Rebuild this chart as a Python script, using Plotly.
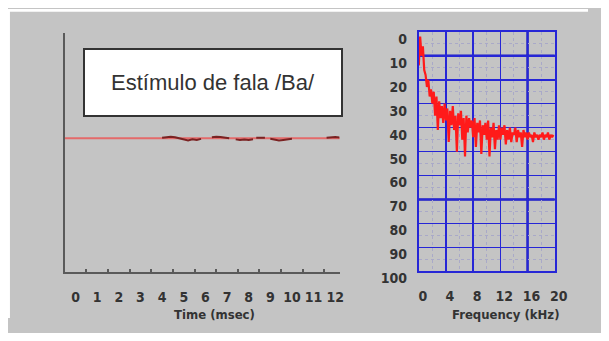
import plotly.graph_objects as go

# ---------------- data ----------------
time_ticks = [0, 1, 2, 3, 4, 5, 6, 7, 8, 9, 10, 11, 12]
time_minor_ticks = [0.5, 1.5, 2.5, 3.5, 4.5, 5.5, 6.5, 7.5, 8.5, 9.5, 10.5, 11.5]

# small visible wiggles of the speech waveform (None = gap, signal ~ 0)
wave_t = [4.0, 4.2, 4.4, 4.6, 4.8, 5.0, 5.2, 5.4, 5.6, 5.8, 6.0,
          6.3, 6.5, 6.7, 6.9, 7.1, 7.2,
          7.4, 7.6, 7.8, 8.0, 8.2, 8.25,
          8.35, 8.55, 8.75, 8.9,
          9.0, 9.2, 9.4, 9.6, 9.8, 10.0, 10.1,
          11.6, 11.8, 12.0, 12.2]
wave_v = [0.005, 0.01, 0.015, 0.01, 0.0, -0.015, -0.02, -0.01, -0.015, -0.005, None,
          0.01, 0.015, 0.012, 0.008, 0.0, None,
          -0.01, -0.015, -0.012, -0.015, -0.008, None,
          0.005, 0.008, 0.005, None,
          -0.005, -0.015, -0.02, -0.015, -0.01, -0.005, None,
          0.005, 0.01, 0.012, 0.008]

freq_ticks = [0, 4, 8, 12, 16, 20]
db_ticks = [0, 10, 20, 30, 40, 50, 60, 70, 80, 90, 100]
thick_freq_lines = [16]
thick_db_lines = [10, 70]

freq_khz = [round(0.2 * i, 1) for i in range(100)]
level_db = [
    14, 2, 10, 6, 16,
    18, 23, 20, 27, 24,
    30, 25, 35, 27, 41,
    29, 36, 31, 38, 30,
    37, 32, 46, 33, 39,
    31, 41, 35, 50, 34,
    39, 33, 45, 36, 52,
    35, 42, 36, 40, 37,
    44, 36, 48, 38, 42,
    37, 51, 39, 43, 38,
    45, 37, 52, 40, 44,
    38, 49, 41, 45, 39,
    45, 40, 43, 39, 47,
    41, 45, 40, 46, 42,
    43, 40, 46, 41, 44,
    42, 48, 41, 44, 42,
    45, 42, 44, 43, 46,
    42, 44, 43, 45, 43,
    44, 42, 45, 43, 44,
    42, 45, 43, 44, 43,
]

# ---------------- styling ----------------
# The page body keeps its default 8px margin, so the figure is sized to fit
# the 609x341 window exactly and positions are measured in window pixels.
PAGE_MARGIN = 8
WIN_W, WIN_H = 609, 341
W, H = WIN_W - 2 * PAGE_MARGIN, WIN_H - 2 * PAGE_MARGIN
BG = "#c4c4c4"
AX = "#5a5a5a"
BLUE = "#2626d6"
TXT = "#333333"
TICKFONT = dict(family="DejaVu Sans Condensed, Liberation Sans Narrow, Arial Narrow, Arial, sans-serif",
                size=14, color=TXT, weight="bold")
TITLEFONT = dict(family="DejaVu Sans Condensed, Liberation Sans Narrow, Arial Narrow, Arial, sans-serif",
                 size=13, color=TXT, weight="bold")


def px_x(p):
    return (p - PAGE_MARGIN) / W


def px_y(p):
    return 1 - (p - PAGE_MARGIN) / H


fig = go.Figure()

fig.add_trace(go.Scatter(x=wave_t, y=wave_v, mode="lines", xaxis="x", yaxis="y",
                         line=dict(color="#7a2222", width=2), connectgaps=False,
                         hoverinfo="skip", showlegend=False))

fig.add_trace(go.Scatter(x=freq_khz, y=level_db, mode="lines", xaxis="x2", yaxis="y2",
                         line=dict(color="#ff1a1a", width=2.2),
                         hoverinfo="skip", showlegend=False))

shapes = [
    # white strips outside the grey panel (continuing the page margin)
    dict(type="rect", xref="paper", yref="paper", x0=0, x1=px_x(10), y0=0, y1=1,
         fillcolor="white", line=dict(width=0), layer="below"),
    dict(type="rect", xref="paper", yref="paper", x0=0, x1=1, y0=px_y(11), y1=1,
         fillcolor="white", line=dict(width=0), layer="below"),
    # zero line of the waveform
    dict(type="line", xref="x domain", yref="y", x0=0, x1=1, y0=0, y1=0,
         line=dict(color="#e46a6a", width=2), layer="below"),
]
for f in thick_freq_lines:
    shapes.append(dict(type="line", xref="x2", yref="y2 domain", x0=f, x1=f, y0=0, y1=1,
                       line=dict(color="#1a1ac8", width=2.5), layer="below"))
for d in thick_db_lines:
    shapes.append(dict(type="line", xref="x2 domain", yref="y2", x0=0, x1=1, y0=d, y1=d,
                       line=dict(color="#1a1ac8", width=2.5), layer="below"))

annotations = [
    dict(text="Estímulo de fala /Ba/", xref="paper", yref="paper",
         x=px_x(218), y=px_y(85), xanchor="center", yanchor="middle", showarrow=False,
         width=254, height=63, bgcolor="white", bordercolor="#333333", borderwidth=2,
         font=dict(family="Liberation Sans, Arial, sans-serif", size=22, color=TXT)),
    dict(text="Time (msec)", xref="paper", yref="paper", x=px_x(219), y=px_y(329),
         xanchor="center", yanchor="middle", showarrow=False, font=TITLEFONT),
    dict(text="Frequency (kHz)", xref="paper", yref="paper", x=px_x(517), y=px_y(329),
         xanchor="center", yanchor="middle", showarrow=False, font=TITLEFONT),
]

fig.update_layout(
    width=W, height=H,
    margin=dict(l=0, r=0, t=0, b=0),
    paper_bgcolor=BG, plot_bgcolor=BG,
    showlegend=False,
    hovermode=False,
    shapes=shapes,
    annotations=annotations,
    xaxis=dict(domain=[px_x(66), px_x(347)], anchor="y", range=[-0.5, 12.2],
               tickvals=time_ticks, ticktext=[str(t) for t in time_ticks],
               ticks="", showgrid=False, zeroline=False,
               showline=True, linecolor=AX, linewidth=2,
               tickfont=TICKFONT, ticklabelstandoff=11,
               minor=dict(tickvals=time_minor_ticks, ticks="inside", ticklen=3,
                          tickcolor=AX, tickwidth=2, showgrid=False)),
    yaxis=dict(domain=[px_y(285), px_y(33)], anchor="x", range=[-1.27, 1.0],
               showticklabels=False, ticks="", showgrid=False, zeroline=False,
               showline=True, linecolor=AX, linewidth=2),
    xaxis2=dict(domain=[px_x(428), px_x(567)], anchor="y2", range=[0, 20],
                tickvals=freq_ticks, ticktext=[str(f) for f in freq_ticks],
                ticks="", showgrid=True, gridcolor=BLUE, gridwidth=1.6, zeroline=False,
                showline=True, linecolor=BLUE, linewidth=2, mirror=True,
                tickfont=TICKFONT, ticklabelstandoff=11, ticklabelshift=4,
                minor=dict(dtick=2, showgrid=True, gridcolor="#a9a9c8", gridwidth=1,
                           griddash="dot")),
    yaxis2=dict(domain=[px_y(284), px_y(32)], anchor="x2", range=[100, 0],
                tickvals=db_ticks, ticktext=[str(d) for d in db_ticks],
                ticks="", showgrid=True, gridcolor=BLUE, gridwidth=1.6, zeroline=False,
                showline=True, linecolor=BLUE, linewidth=2, mirror=True,
                tickfont=TICKFONT, ticklabelstandoff=7, ticklabelshift=-7,
                minor=dict(dtick=5, showgrid=True, gridcolor="#a9a9c8", gridwidth=1,
                           griddash="dot")),
)

fig.write_html("out.html", config={"displayModeBar": False, "staticPlot": True})
